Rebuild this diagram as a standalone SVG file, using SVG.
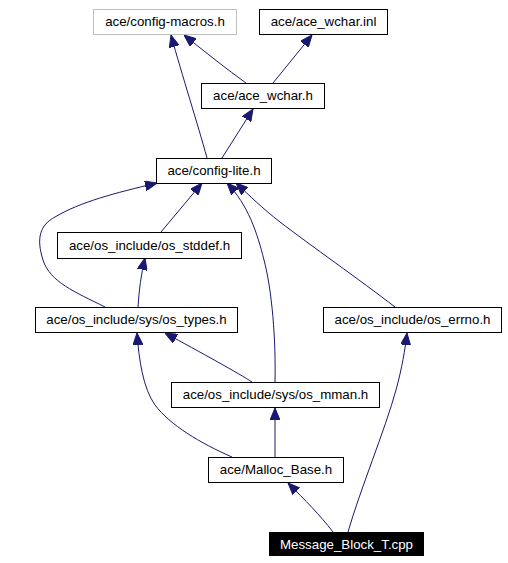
<svg xmlns="http://www.w3.org/2000/svg" width="508" height="563" viewBox="0 0 508 563">
<style>
.n rect{fill:#fff;stroke:#000;stroke-width:1}
.n.g rect{stroke:#bfbfbf}
.n.k rect{fill:#000}
.n text{font-family:"Liberation Sans",Arial,sans-serif;font-size:13.3px;text-anchor:middle;fill:#000}
.n.k text{fill:#fff}
.e path{fill:none;stroke:#191970;stroke-width:1;marker-end:url(#ah)}
</style>
<defs>
<marker id="ah" viewBox="0 0 12 10" refX="12" refY="5" markerWidth="12" markerHeight="10" markerUnits="userSpaceOnUse" orient="auto">
<path d="M0,0 L12,5 L0,10 z" fill="#191970" stroke="#191970" stroke-width="1"/>
</marker>
</defs>
<rect width="508" height="563" fill="#fff"/>
<g id="edges" class="e">
<path d="M207,158 C198,125 182,75 171,35"/>
<path d="M246,83 C228,70 205,52 184,35"/>
<path d="M273,83 L312,35"/>
<path d="M222,158 L253,109"/>
<path d="M161,232 L202,183"/>
<path d="M105,307 C75,292 50,282 43,260 C36,238 40,225 55,217 C80,202 115,193 157,183"/>
<path d="M275,382 C276,340 272,290 264,260 C257,232 248,205 227,183"/>
<path d="M395,307 C360,280 310,245 280,222 C262,208 250,196 236,183"/>
<path d="M138,307 C139,290 141,275 145,258"/>
<path d="M252,382 C240,374 200,352 165,333"/>
<path d="M232,457 C200,443 170,425 155,405 C143,388 139,360 137,333"/>
<path d="M275,457 L275,408"/>
<path d="M333,532 C320,515 305,500 288,483"/>
<path d="M348,532 C360,490 385,430 396,390 C402,368 405,350 407,333"/>
</g>
<g id="config-macros" class="n g"><rect x="93.5" y="9.5" width="143" height="25"/><text x="165" y="26">ace/config-macros.h</text></g>
<g id="ace_wchar_inl" class="n"><rect x="259.5" y="9.5" width="128" height="25"/><text x="323.5" y="26">ace/ace_wchar.inl</text></g>
<g id="ace_wchar_h" class="n"><rect x="201.5" y="83.5" width="123" height="25"/><text x="263" y="100">ace/ace_wchar.h</text></g>
<g id="config-lite" class="n"><rect x="156.5" y="158.5" width="115" height="25"/><text x="214" y="175">ace/config-lite.h</text></g>
<g id="os_stddef" class="n"><rect x="57.5" y="232.5" width="184" height="26"/><text x="149.5" y="249.5">ace/os_include/os_stddef.h</text></g>
<g id="os_types" class="n"><rect x="35.5" y="307.5" width="202" height="25"/><text x="136.5" y="324">ace/os_include/sys/os_types.h</text></g>
<g id="os_errno" class="n"><rect x="323.5" y="307.5" width="178" height="25"/><text x="412.5" y="324">ace/os_include/os_errno.h</text></g>
<g id="os_mman" class="n"><rect x="171.5" y="382.5" width="208" height="25"/><text x="275.5" y="399">ace/os_include/sys/os_mman.h</text></g>
<g id="Malloc_Base" class="n"><rect x="208.5" y="457.5" width="135" height="25"/><text x="276" y="474">ace/Malloc_Base.h</text></g>
<g id="Message_Block_T" class="n k"><rect x="269.5" y="532.5" width="154" height="23"/><text x="346.5" y="548.5">Message_Block_T.cpp</text></g>
</svg>
